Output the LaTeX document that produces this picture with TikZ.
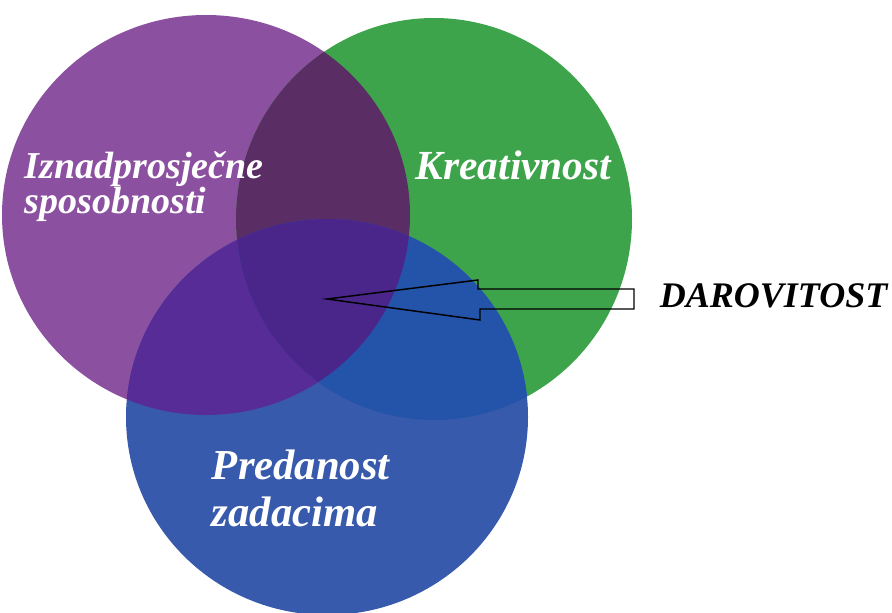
\documentclass[tikz,border=0pt]{standalone}
\usepackage{fontspec}
\setmainfont{Liberation Serif}

\tikzset{every picture/.style={line width=0.75pt}}

\begin{document}
\begin{tikzpicture}[x=0.75pt,y=0.75pt,yscale=-1,xscale=1]
	\useasboundingbox (0,0) rectangle (892,613);

	%Shape: Ellipse [purple]
	\fill [fill={rgb, 255:red, 140; green, 80; blue, 160 }] (206,215) ellipse (204 and 200);
	%Shape: Ellipse [green]
	\fill [fill={rgb, 255:red, 62; green, 164; blue, 76 }] (434,219) ellipse (198 and 201);
	%Shape: Ellipse [blue]
	\fill [fill={rgb, 255:red, 56; green, 90; blue, 172 }] (327,417) ellipse (201 and 198);

	%Overlap: purple and green
	\begin{scope}
		\clip (206,215) ellipse (204 and 200);
		\fill [fill={rgb, 255:red, 90; green, 45; blue, 100 }] (434,219) ellipse (198 and 201);
	\end{scope}
	%Overlap: purple and blue
	\begin{scope}
		\clip (206,215) ellipse (204 and 200);
		\fill [fill={rgb, 255:red, 88; green, 44; blue, 150 }] (327,417) ellipse (201 and 198);
	\end{scope}
	%Overlap: green and blue
	\begin{scope}
		\clip (434,219) ellipse (198 and 201);
		\fill [fill={rgb, 255:red, 36; green, 84; blue, 170 }] (327,417) ellipse (201 and 198);
	\end{scope}
	%Overlap: all three
	\begin{scope}
		\clip (206,215) ellipse (204 and 200);
		\clip (434,219) ellipse (198 and 201);
		\fill [fill={rgb, 255:red, 74; green, 38; blue, 138 }] (327,417) ellipse (201 and 198);
	\end{scope}

	% Text Node
	\draw (20,214) node [anchor=base west, text=white, align=left, font=\fontsize{28.5}{25.5}\selectfont\bfseries\itshape] (sposobnosti) {Iznadprosječne\\sposobnosti};
	% Text Node
	\draw (411,180) node [anchor=base west, text=white, font=\fontsize{31}{26}\selectfont\bfseries\itshape] (kreativnost) {Kreativnost};
	% Text Node
	\draw (207,526) node [anchor=base west, text=white, align=left, font=\fontsize{32}{35}\selectfont\bfseries\itshape] (predanost) {Predanost\\zadacima};
	% Text Node
	\draw (655,307) node [anchor=base west, font=\fontsize{27}{26}\selectfont\bfseries\itshape] (darovitost) {DAROVITOST};

	%Shape: Block Arrow [id:darovitost arrow]
	\coordinate (tip) at (327,299);
	\draw [line width=1.1pt, line join=miter] (tip) -- (478,280) -- (478,289) -- (634,289) -- (634,309) -- (480,309) -- (480,320) -- cycle ;

\end{tikzpicture}
\end{document}
